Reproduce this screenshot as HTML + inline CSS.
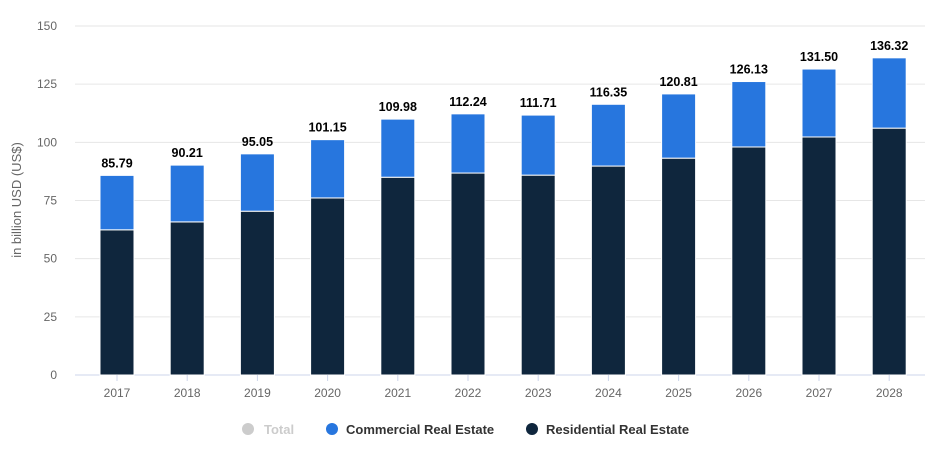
<!DOCTYPE html>
<html><head><meta charset="utf-8"><style>
body{margin:0;background:#fff;font-family:"Liberation Sans",sans-serif}
</style></head><body>
<svg width="944" height="456" id="c"></svg>
<script>
const years=["2017","2018","2019","2020","2021","2022","2023","2024","2025","2026","2027","2028"];
const residential=[62.4,65.8,70.4,76.1,85.0,86.8,85.9,89.8,93.2,98.0,102.3,106.1];
const totals=[85.79,90.21,95.05,101.15,109.98,112.24,111.71,116.35,120.81,126.13,131.50,136.32];
const totalLabels=["85.79","90.21","95.05","101.15","109.98","112.24","111.71","116.35","120.81","126.13","131.50","136.32"];
const yTicks=[0,25,50,75,100,125,150];
const NS="http://www.w3.org/2000/svg";
const svg=document.getElementById('c');
const y=v=>375-v*(349/150);
const x=i=>117+i*70.2;
const bw=34;
function el(t,a,txt){const e=document.createElementNS(NS,t);for(const k in a)e.setAttribute(k,a[k]);if(txt!==undefined)e.textContent=txt;svg.appendChild(e);return e;}
yTicks.forEach(v=>{
 const g=el('line',{x1:75,x2:925,y1:y(v),y2:y(v),stroke:v===0?'#ccd6eb':'#e6e6e6','stroke-width':1});
 
 
 const t=el('text',{x:57,y:y(v)+4,'text-anchor':'end','font-size':12,fill:'#666'},String(v));
 
 
});
const yt=el('text',{x:0,y:0,transform:'translate(21,200) rotate(-90)','text-anchor':'middle','font-size':13,fill:'#666'},'in billion USD (US$)');


years.forEach((yr,i)=>{
 const cx=x(i);
 const r=el('rect',{x:cx-bw/2,y:y(residential[i]),width:bw,height:y(0)-y(residential[i]),fill:'#0f263d',stroke:'#fff','stroke-width':1});
 
 
 const c=el('rect',{x:cx-bw/2,y:y(totals[i]),width:bw,height:y(residential[i])-y(totals[i]),fill:'#2776de',stroke:'#fff','stroke-width':1});
 
 
 const l=el('text',{x:cx,y:y(totals[i])-8,'text-anchor':'middle','font-size':12.5,'font-weight':'bold',fill:'#000'},totalLabels[i]);
 
 
 const tk=el('line',{x1:cx,x2:cx,y1:375,y2:381,stroke:'#ccd6eb'});
 
 
 const xt=el('text',{x:cx,y:397,'text-anchor':'middle','font-size':12,fill:'#666'},yr);
 
 
});
const leg=[["Total","#ccc","#ccc",248,264],["Commercial Real Estate","#2776de","#333",332,346],["Residential Real Estate","#0f263d","#333",532,546]];
leg.forEach(([n,col,tc,cx,tx])=>{
 const d=el('circle',{cx:cx,cy:429,r:6,fill:col});
 
 
 const t=el('text',{x:tx,y:434,'font-size':13,'font-weight':'bold',fill:tc},n);
 
 
});
</script>
</body></html>
